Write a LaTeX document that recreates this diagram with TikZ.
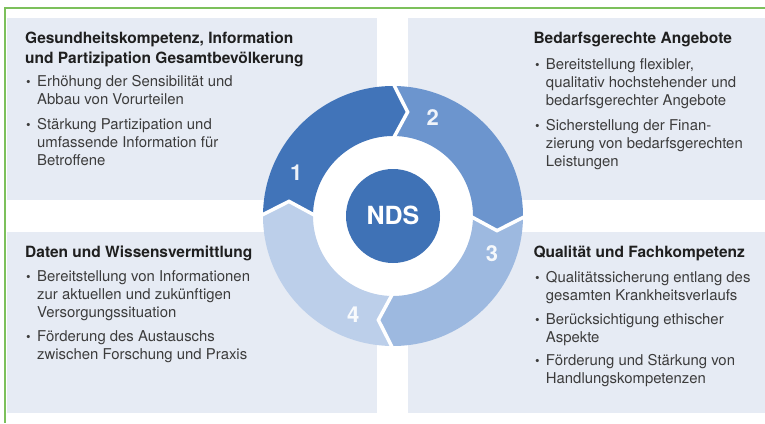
\documentclass[tikz,border=0pt]{standalone}
\usepackage{fontspec}
\setmainfont{TeX Gyre Heros}
\definecolor{framegreen}{HTML}{7CC05B}
\definecolor{panelbg}{HTML}{E6EBF4}
\definecolor{segA}{HTML}{4174B9}
\definecolor{segB}{HTML}{6C95CE}
\definecolor{segC}{HTML}{9DB9E0}
\definecolor{segD}{HTML}{BCCFEA}
\definecolor{ndsblue}{HTML}{3F72B6}
\definecolor{titlecol}{HTML}{1F1F1F}
\definecolor{bodycol}{HTML}{3C3C3C}
\begin{document}
\begin{tikzpicture}[x=1pt,y=-1pt,
  panel/.style={fill=panelbg},
  heading/.style={anchor=base west, inner sep=0pt, align=left, text=titlecol,
    font=\fontsize{15.5}{20}\selectfont\bfseries},
  bodytext/.style={anchor=base west, inner sep=0pt, align=left, text=bodycol,
    font=\fontsize{14.9}{18}\selectfont},
  dot/.style={anchor=base west, inner sep=0pt, text=bodycol,
    font=\fontsize{13}{18}\selectfont},
  segnum/.style={text=white, text opacity=0.9, inner sep=0pt,
    font=\fontsize{22}{22}\selectfont\bfseries},
  gapline/.style={draw=white, line width=3.5pt, line join=miter}]
\useasboundingbox (0,0) rectangle (765,423);

% four background panels
\fill[panel] (7,18) rectangle (377,200);
\fill[panel] (408,18) rectangle (765,200);
\fill[panel] (7,232) rectangle (377,413);
\fill[panel] (408,232) rectangle (765,413);

% green frame lines
\draw[framegreen, line width=2.2pt] (4,8) -- (765,8);
\draw[framegreen, line width=2.2pt] (5,7) -- (5,423);

% cycle ring
\def\Ro{130}\def\Ri{80}\def\Rm{105}\def\dl{8}
\begin{scope}[shift={(393,216)}]
  \fill[white] (0,0) circle[radius=\Ri];
  \foreach \s/\c in {180/segA, 270/segB, 0/segC, 90/segD}{
    \fill[\c] (\s:\Ro) arc[start angle=\s, end angle=\s+90, radius=\Ro]
      -- (\s+90+\dl:\Rm) -- (\s+90:\Ri)
      arc[start angle=\s+90, end angle=\s, radius=\Ri]
      -- (\s+\dl:\Rm) -- cycle;
  }
  \foreach \s in {0,90,180,270}{
    \draw[gapline] (\s:\Ro+3) -- (\s+\dl:\Rm) -- (\s:\Ri-3);
  }
  \node[segnum] (n1) at (204:106) {1};
  \node[segnum] (n2) at (292:106) {2};
  \node[segnum] (n3) at (21:106) {3};
  \node[segnum] (n4) at (112:106) {4};
  \fill[ndsblue] (0,0) circle[radius=47];
  \node[text=white, inner sep=0pt, font=\fontsize{25}{25}\selectfont\bfseries] (nds) at (0,-1) {NDS};
\end{scope}

% text blocks: node positions give the baseline of each block's last line,
% bullet dots sit on the baseline of the first line

% top left panel
\node[heading] (tlh) at (25,63.3) {Gesundheitskompetenz, Information\\und Partizipation Gesamtbevölkerung};
\node[dot] (tld1) at (26,86.7) {•};
\node[bodytext] (tlb1) at (37,104.5) {Erhöhung der Sensibilität und\\Abbau von Vorurteilen};
\node[dot] (tld2) at (26,129.3) {•};
\node[bodytext] (tlb2) at (37,165.3) {Stärkung Partizipation und\\umfassende Information für\\Betroffene};

% top right panel
\node[heading] (trh) at (533.3,43.3) {Bedarfsgerechte Angebote};
\node[dot] (trd1) at (535,69) {•};
\node[bodytext] (trb1) at (545.7,105) {Bereitstellung flexibler,\\qualitativ hochstehender und\\bedarfsgerechter Angebote};
\node[dot] (trd2) at (535,130) {•};
\node[bodytext] (trb2) at (545.7,166) {Sicherstellung der Finan-\\zierung von bedarfsgerechten\\Leistungen};

% bottom left panel
\node[heading] (blh) at (25,257.3) {Daten und Wissensvermittlung};
\node[dot] (bld1) at (26,281.7) {•};
\node[bodytext] (blb1) at (37,317.7) {Bereitstellung von Informationen\\zur aktuellen und zukünftigen\\Versorgungssituation};
\node[dot] (bld2) at (26,341.7) {•};
\node[bodytext] (blb2) at (37,359.7) {Förderung des Austauschs\\zwischen Forschung und Praxis};

% bottom right panel
\node[heading] (brh) at (533.3,257.3) {Qualität und Fachkompetenz};
\node[dot] (brd1) at (535,282.3) {•};
\node[bodytext] (brb1) at (545.7,300.3) {Qualitätssicherung entlang des\\gesamten Krankheitsverlaufs};
\node[dot] (brd2) at (535,324) {•};
\node[bodytext] (brb2) at (545.7,342) {Berücksichtigung ethischer\\Aspekte};
\node[dot] (brd3) at (535,365) {•};
\node[bodytext] (brb3) at (545.7,383) {Förderung und Stärkung von\\Handlungskompetenzen};
\end{tikzpicture}
\end{document}
